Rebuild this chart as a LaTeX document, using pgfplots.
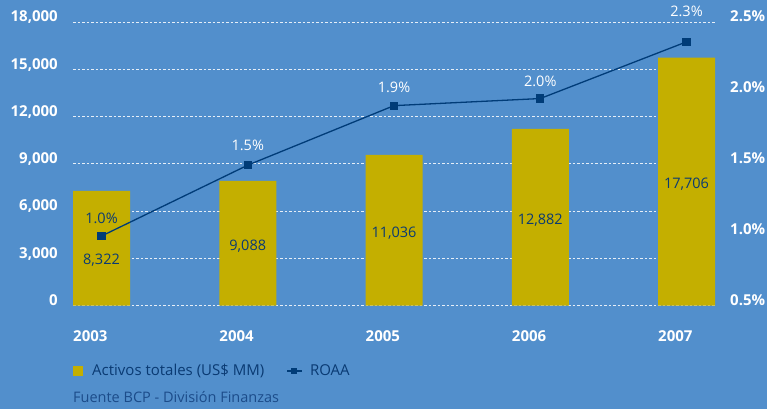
\documentclass[border=0pt]{standalone}
\usepackage{pgfplots}
\pgfplotsset{compat=1.18}
\usepackage{fontspec}
\setmainfont{Open Sans}
\definecolor{bg}{HTML}{528FCC}
\definecolor{barc}{HTML}{C4AF00}
\definecolor{navy}{HTML}{003C78}
\definecolor{navytext}{HTML}{0A3A73}
\definecolor{srctext}{HTML}{1C4C8A}
\definecolor{gridc}{HTML}{E6EEF7}
\newcommand{\tickfont}{\fontsize{15}{18}\selectfont\bfseries}
\newcommand{\valfont}{\fontsize{14.5}{17}\selectfont}
\begin{document}
\begin{tikzpicture}
\fill[bg] (-73pt,-103.5pt) rectangle (694pt,305.5pt);
\begin{axis}[
  at={(0pt,0pt)}, anchor=south west,
  scale only axis, width=642pt, height=283.5pt,
  xmin=-0.1949, xmax=4.1949, ymin=0, ymax=18000,
  scaled y ticks=false,
  axis line style={draw=none}, major tick length=0pt,
  xtick={0,1,2,3,4}, xticklabels={2003,2004,2005,2006,2007},
  xticklabel style={anchor=base west, inner sep=0pt, xshift=-28.5pt, yshift=-35.5pt, font=\tickfont, text=white},
  ytick={0,3000,6000,9000,12000,15000,18000},
  yticklabels={0,{3,000},{6,000},{9,000},{12,000},{15,000},{18,000}},
  yticklabel style={anchor=base east, inner sep=0pt, xshift=-15pt, font=\tickfont, text=white},
  ymajorgrids, major grid style={gridc, dash pattern=on 2.5pt off 2pt, line width=0.8pt},
  clip=false,
]
\addplot[ybar, bar width=57pt, fill=barc, draw=none] coordinates {(0,7277) (1,7913) (2,9566) (3,11218) (4,15731)};
\node[anchor=base, text=navytext, font=\valfont] at (axis cs:0,2574) {8,322};
\node[anchor=base, text=navytext, font=\valfont] at (axis cs:1,3464) {9,088};
\node[anchor=base, text=navytext, font=\valfont] at (axis cs:2,4335) {11,036};
\node[anchor=base, text=navytext, font=\valfont] at (axis cs:3,5136) {12,882};
\node[anchor=base, text=navytext, font=\valfont] at (axis cs:4,7424) {17,706};
\node[anchor=base west, inner sep=0pt, text=srctext, font=\fontsize{14.5}{17}\selectfont, yshift=-96.5pt] at (rel axis cs:0,0) {Fuente BCP - División Finanzas};
\end{axis}
\begin{axis}[
  at={(0pt,0pt)}, anchor=south west,
  scale only axis, width=642pt, height=283.5pt,
  xmin=-0.1949, xmax=4.1949, ymin=0.5, ymax=2.5,
  axis line style={draw=none}, major tick length=0pt,
  xtick=\empty,
  ytick={0.5,1,1.5,2,2.5},
  yticklabels={0.5\%,1.0\%,1.5\%,2.0\%,2.5\%},
  yticklabel pos=right,
  yticklabel style={anchor=base west, inner sep=0pt, xshift=15pt, font=\tickfont, text=white},
  clip=false,
  legend columns=2,
  legend style={at={(0,0)}, anchor=west, yshift=-65.5pt, draw=none, fill=none, inner sep=0pt,
    font=\fontsize{15}{18}\selectfont, text=navytext,
    /tikz/every even column/.append style={column sep=20pt}},
  legend cell align=left,
]
\addlegendimage{legend image code/.code={\fill[barc, draw=none] (0pt,-5pt) rectangle (10pt,5pt); \path[draw=none] (0pt,0pt) -- (17pt,0pt);}}
\addlegendentry{Activos totales (US\$ MM)}
\addplot[navy, line width=1.3pt, mark=square*, mark size=3.4pt, mark options={solid},
  legend image code/.code={\draw[navy, line width=1.3pt] (0pt,0pt) -- (15pt,0pt); \fill[navy, draw=none] (3.7pt,-3.4pt) rectangle (10.4pt,3.4pt); \path[draw=none] (0pt,0pt) -- (21pt,0pt);}]
  coordinates {(0,0.99) (1,1.49) (2,1.91) (3,1.96) (4,2.36)};
\addlegendentry{ROAA}
\node[anchor=base, text=navytext, font=\valfont] at (axis cs:0,1.081) {1.0\%};
\node[anchor=base, text=white, font=\valfont] at (axis cs:1,1.592) {1.5\%};
\node[anchor=base, text=white, font=\valfont] at (axis cs:2,2.0) {1.9\%};
\node[anchor=base, text=white, font=\valfont] at (axis cs:3,2.046) {2.0\%};
\node[anchor=base, text=white, font=\valfont] at (axis cs:4,2.537) {2.3\%};
\end{axis}
\pgfresetboundingbox
\path (-73pt,-103.5pt) rectangle (694pt,305.5pt);
\end{tikzpicture}
\end{document}
